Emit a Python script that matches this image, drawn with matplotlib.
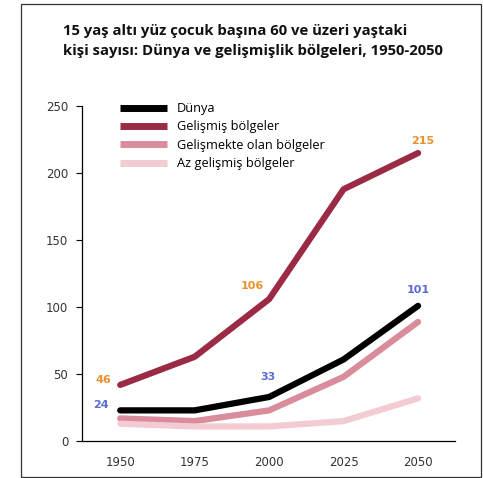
import matplotlib
matplotlib.use("Agg")
import matplotlib.pyplot as plt
from matplotlib.patches import Rectangle

# data
years = [1950, 1975, 2000, 2025, 2050]
dunya = [23, 23, 33, 61, 101]
gelismis = [42, 63, 106, 188, 215]
gelismekte = [17, 15, 23, 48, 89]
az_gelismis = [13, 11, 11, 15, 32]

series_names = ["Dünya", "Gelişmiş bölgeler", "Gelişmekte olan bölgeler", "Az gelişmiş bölgeler"]
series_colors = ["#000000", "#9B2A45", "#D98D9C", "#F2CBD3"]

# value labels: (series, index, text, dx px, dy px, color)
orange = "#E8922E"
blue = "#5A6BD6"
value_labels = [
    (gelismis, 0, "46", -17, 5, orange),
    (gelismis, 2, "106", -17, 13, orange),
    (gelismis, 4, "215", 5, 12, orange),
    (dunya, 0, "24", -19, 5, blue),
    (dunya, 2, "33", -1, 20, blue),
    (dunya, 4, "101", 0, 16, blue),
]

title = "15 yaş altı yüz çocuk başına 60 ve üzeri yaştaki\nkişi sayısı: Dünya ve gelişmişlik bölgeleri, 1950-2050"

if __name__ == '__main__':
    fig = plt.figure(figsize=(4.83, 4.78), dpi=100)
    fig.patch.set_facecolor("white")

    # outer frame of the picture
    fig.patches.append(Rectangle((0.0435, 0.003), 0.952, 0.988, transform=fig.transFigure,
                                 fill=False, edgecolor="#333333", linewidth=0.9))

    fig.text(0.130, 0.950, title, ha="left", va="top", fontsize=10.7,
             fontweight="bold", family="Open Sans", color="#111111", linespacing=1.55)

    ax = fig.add_axes([0.170, 0.077, 0.772, 0.701])

    all_series = [dunya, gelismis, gelismekte, az_gelismis]
    # draw the light ones first so the dark ones sit on top
    for i in [3, 2, 0, 1]:
        ax.plot(years, all_series[i], color=series_colors[i], linewidth=4.5,
                solid_capstyle="round", solid_joinstyle="round", label=series_names[i], zorder=3 + i)

    for ser, idx, txt, dx, dy, col in value_labels:
        ax.annotate(txt, (years[idx], ser[idx]), xytext=(dx * 0.72, dy * 0.72),
                    textcoords="offset points", ha="center", va="center",
                    fontsize=8, fontweight="bold", color=col, family="DejaVu Sans")

    ax.set_xlim(1937.2, 2062.4)
    ax.set_ylim(0, 250)
    ax.set_xticks(years)
    ax.set_yticks([0, 50, 100, 150, 200, 250])
    ax.tick_params(axis="x", length=0, pad=11, labelsize=8.5, labelcolor="#333333")
    ax.tick_params(axis="y", length=4, width=0.8, pad=6, labelsize=8.5, labelcolor="#333333")
    for s in ["top", "right"]:
        ax.spines[s].set_visible(False)
    for s in ["left", "bottom"]:
        ax.spines[s].set_linewidth(0.9)

    handles, labels = ax.get_legend_handles_labels()
    order = [labels.index(n) for n in series_names]
    leg = ax.legend([handles[k] for k in order], [labels[k] for k in order],
                    loc="upper left", bbox_to_anchor=(0.102, 1.012), frameon=False,
                    borderpad=0, borderaxespad=0, handlelength=3.7, handletextpad=0.75,
                    labelspacing=0.42, prop={"family": "Open Sans", "size": 9.2})
    for line in leg.get_lines():
        line.set_linewidth(5)
        line.set_solid_capstyle("butt")

    fig.savefig("out.png", dpi=100)
